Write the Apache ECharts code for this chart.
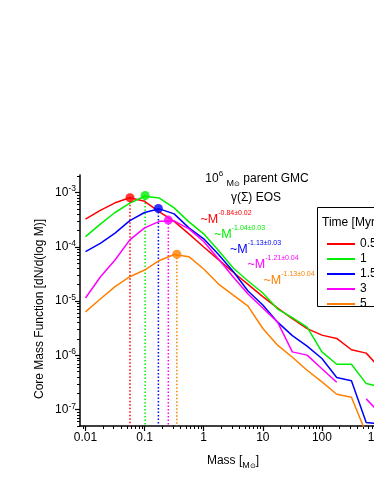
<!DOCTYPE html>
<html><head><meta charset="utf-8">
<script src="https://cdn.jsdelivr.net/npm/echarts@6/dist/echarts.min.js"></script>
<style>html,body{margin:0;padding:0;overflow:hidden;background:#fff;width:374px;height:484px}#c{width:440px;height:484px}</style>
</head><body><div id="c"></div>
<script>
// ---- data ----
const massBins = [0.01, 0.0178, 0.0316, 0.0562, 0.1, 0.178, 0.316, 0.562, 1, 1.78, 3.16, 5.62, 10, 17.8, 31.6, 56.2, 100, 178, 316, 562, 1000];
const cmf05 = [3.23e-4, 4.69e-4, 6.45e-4, 7.98e-4, 6.87e-4, 4.41e-4, 2.94e-4, 1.73e-4, 9.93e-5, 5.79e-5, 3.40e-5, 2.03e-5, 1.21e-5, 7.43e-6, 4.75e-6, 3.11e-6, 2.36e-6, 2.05e-6, 1.27e-6, 1.10e-6, 5.55e-7];
const cmf1 = [1.54e-4, 2.61e-4, 4.28e-4, 6.37e-4, 8.51e-4, 7.89e-4, 5.21e-4, 2.88e-4, 1.73e-4, 8.57e-5, 4.07e-5, 2.34e-5, 1.41e-5, 7.12e-6, 4.95e-6, 3.31e-6, 1.16e-6, 6.87e-7, 6.87e-7, 3.02e-7, 2.61e-7];
const cmf15 = [8.13e-5, 1.16e-4, 1.78e-4, 3.04e-4, 4.28e-4, 5.0e-4, 4.04e-4, 2.23e-4, 1.40e-4, 7.23e-5, 3.51e-5, 1.53e-5, 8.44e-6, 4.09e-6, 2.31e-6, 1.48e-6, 8.75e-7, 3.90e-7, 3.40e-7, 5.82e-8, 5.47e-8];
const cmf3 = [1.14e-5, 2.77e-5, 5.71e-5, 1.34e-4, 2.23e-4, 2.94e-4, 3.00e-4, 2.14e-4, 1.25e-4, 5.97e-5, 2.77e-5, 1.35e-5, 7.43e-6, 4.09e-6, 1.16e-6, 1.01e-6, 5.66e-7, 3.19e-7, null, 1.58e-7, 8.18e-8];
const cmf5 = [6.34e-6, 1.09e-5, 1.84e-5, 2.81e-5, 3.73e-5, 5.60e-5, 7.23e-5, 6.58e-5, 3.90e-5, 2.06e-5, 1.29e-5, 8.09e-6, 3.13e-6, 1.54e-6, 9.24e-7, 5.32e-7, 3.24e-7, 1.92e-7, 1.69e-7, 3.65e-8, null];
const seriesNames = ['0.5', '1', '1.5', '3', '5'];
const peakMass = [0.0566, 0.102, 0.171, 0.252, 0.351];
const peakValue = [8.0e-4, 8.8e-4, 5.07e-4, 3.1e-4, 7.3e-5];
const slopeLabels = ['-0.84±0.02', '-1.04±0.03', '-1.13±0.03', '-1.21±0.04', '-1.13±0.04'];
const xTickValues = [0.01, 0.1, 1, 10, 100, 1000];
const xTickLabels = ['0.01', '0.1', '1', '10', '100', '1000'];
const yTickValues = [1e-7, 1e-6, 1e-5, 1e-4, 1e-3];
const yTickExps = ['-7', '-6', '-5', '-4', '-3'];

// ---- styling ----
const allSeries = [cmf05, cmf1, cmf15, cmf3, cmf5];
const colors = ['#ff0000', '#00ee00', '#0000ff', '#ff00ff', '#ff8000'];
const FONT = 'Arial, "Liberation Sans", sans-serif';
const xMin = 0.00807, xMax = 2000, yMin = 5e-8, yMax = 2.1e-3;

function minorTicks(lo, hi) {
  const out = [];
  for (let e = -9; e <= 4; e++) {
    const d = Math.pow(10, e);
    for (let k = 2; k <= 9; k++) {
      const v = k * d;
      if (v >= lo * 0.9999 && v <= hi * 1.0001) out.push(v);
    }
  }
  return out;
}
const xMinor = minorTicks(xMin, xMax);
const yMinor = minorTicks(yMin, yMax);
function idxOf(arr, v) {
  return arr.findIndex(t => Math.abs(Math.log10(t) - Math.log10(v)) < 1e-6);
}

const series = [];
allSeries.forEach((arr, i) => {
  series.push({
    name: seriesNames[i], type: 'line', symbol: 'none', smooth: false, connectNulls: false,
    lineStyle: { color: colors[i], width: 1.5 }, itemStyle: { color: colors[i] },
    data: massBins.map((m, j) => [m, arr[j] == null ? '-' : arr[j]]), z: 3
  });
});
allSeries.forEach((arr, i) => {
  series.push({
    name: 'drop' + i, type: 'line', symbol: 'none',
    lineStyle: { color: colors[i], width: 1.5, type: [1.5, 2] },
    data: [[peakMass[i], peakValue[i]], [peakMass[i], yMin]], z: 2
  });
  series.push({
    name: 'peak' + i, type: 'scatter', symbol: 'circle', symbolSize: 9,
    itemStyle: { color: colors[i] }, data: [[peakMass[i], peakValue[i]]], z: 5
  });
});

const supRich = {
  b: { fontSize: 12, lineHeight: 16, fontFamily: FONT, color: '#000' },
  s: { fontSize: 8.5, lineHeight: 8, verticalAlign: 'top', fontFamily: FONT, color: '#000' }
};
const titleRich = {
  b: { fontSize: 12, lineHeight: 18, fontFamily: FONT, fill: '#000' },
  s: { fontSize: 8, lineHeight: 8, verticalAlign: 'top', fontFamily: FONT, fill: '#000' },
  ms: { fontSize: 9, lineHeight: 14, verticalAlign: 'bottom', fontFamily: FONT, fill: '#000' },
  sub: { fontSize: 7, lineHeight: 8, verticalAlign: 'bottom', fontFamily: FONT, fill: '#000' }
};

const annPos = [[200.5, 219.5], [214, 234.5], [230, 249.5], [247.5, 264.5], [263.5, 281]];
const graphics = [
  { type: 'rect', shape: { x: 317.5, y: 207.5, width: 120, height: 99 }, style: { fill: '#fff', stroke: '#000', lineWidth: 1 }, z: 0 },
  { type: 'text', x: 322, y: 223, style: { text: 'Time [Myr]', font: '12px ' + FONT, fill: '#000', align: 'left', verticalAlign: 'middle' } },
  { type: 'text', x: 257, y: 179, style: { text: '{b|10}{s|6}{b| }{ms|M}{sub|⊙}{b| parent GMC}', rich: titleRich, align: 'center', verticalAlign: 'middle' } },
  { type: 'text', x: 256, y: 198, style: { text: 'γ(Σ) EOS', font: '12px ' + FONT, fill: '#000', align: 'center', verticalAlign: 'middle' } },
  { type: 'text', x: 233, y: 461, style: { text: '{b|Mass [}{ms|M}{sub|⊙}{b|]}', rich: titleRich, align: 'center', verticalAlign: 'middle' } },
  { type: 'text', x: 40, y: 309, rotation: Math.PI / 2, style: { text: 'Core Mass Function [dN/d(log M)]', font: '12px ' + FONT, fill: '#000', align: 'center', verticalAlign: 'middle' } }
];
slopeLabels.forEach((s, i) => {
  graphics.push({
    type: 'text', x: annPos[i][0], y: annPos[i][1], z: 10,
    style: {
      text: '{m|~M}{s|' + s + '}', align: 'left', verticalAlign: 'middle', fill: colors[i],
      rich: {
        m: { fontSize: 12.5, lineHeight: 20, fontFamily: FONT, fill: colors[i] },
        s: { fontSize: 7, lineHeight: 8, verticalAlign: 'top', fontFamily: FONT, fill: colors[i] }
      }
    }
  });
});

const axisBase = { type: 'log', logBase: 10, splitLine: { show: false }, minorTick: { show: false }, minorSplitLine: { show: false } };
const option = {
  animation: false,
  backgroundColor: '#fff',
  grid: { left: 80, top: 175, right: 41.2, bottom: 58, containLabel: false },
  xAxis: [
    Object.assign({}, axisBase, {
      min: xMin, max: xMax, position: 'bottom',
      axisLine: { show: true, onZero: false, lineStyle: { color: '#000', width: 1.5 } },
      axisTick: { show: true, inside: false, length: 5, customValues: xTickValues, lineStyle: { color: '#000', width: 1.2 } },
      axisLabel: { show: true, customValues: xTickValues, margin: 6, fontSize: 12, fontFamily: FONT, color: '#000',
        formatter: v => { const k = idxOf(xTickValues, v); return k >= 0 ? xTickLabels[k] : ''; } }
    }),
    Object.assign({}, axisBase, {
      min: xMin, max: xMax, position: 'bottom', offset: 0,
      axisLine: { show: false, onZero: false },
      axisTick: { show: true, inside: false, length: 3, customValues: xMinor, lineStyle: { color: '#000', width: 1 } },
      axisLabel: { show: false }
    })
  ],
  yAxis: [
    Object.assign({}, axisBase, {
      min: yMin, max: yMax, position: 'left',
      axisLine: { show: true, onZero: false, lineStyle: { color: '#000', width: 1.5 } },
      axisTick: { show: true, inside: false, length: 5, customValues: yTickValues, lineStyle: { color: '#000', width: 1.2 } },
      axisLabel: { show: true, customValues: yTickValues, margin: 4, rich: supRich,
        formatter: v => { const k = idxOf(yTickValues, v); return k >= 0 ? '{b|10}{s|' + yTickExps[k] + '}' : ''; } }
    }),
    Object.assign({}, axisBase, {
      min: yMin, max: yMax, position: 'left', offset: 0,
      axisLine: { show: false, onZero: false },
      axisTick: { show: true, inside: false, length: 3, customValues: yMinor, lineStyle: { color: '#000', width: 1 } },
      axisLabel: { show: false }
    })
  ],
  legend: {
    data: seriesNames, orient: 'vertical', left: 322, top: 231.5, icon: 'rect',
    itemWidth: 28, itemHeight: 2, itemGap: 0, selectedMode: false,
    textStyle: { fontSize: 12, lineHeight: 15, fontFamily: FONT, color: '#000' }
  },
  graphic: graphics,
  series: series
};
const chart = echarts.init(document.getElementById('c'), null, { renderer: 'canvas' });
chart.setOption(option);
</script></body></html>
